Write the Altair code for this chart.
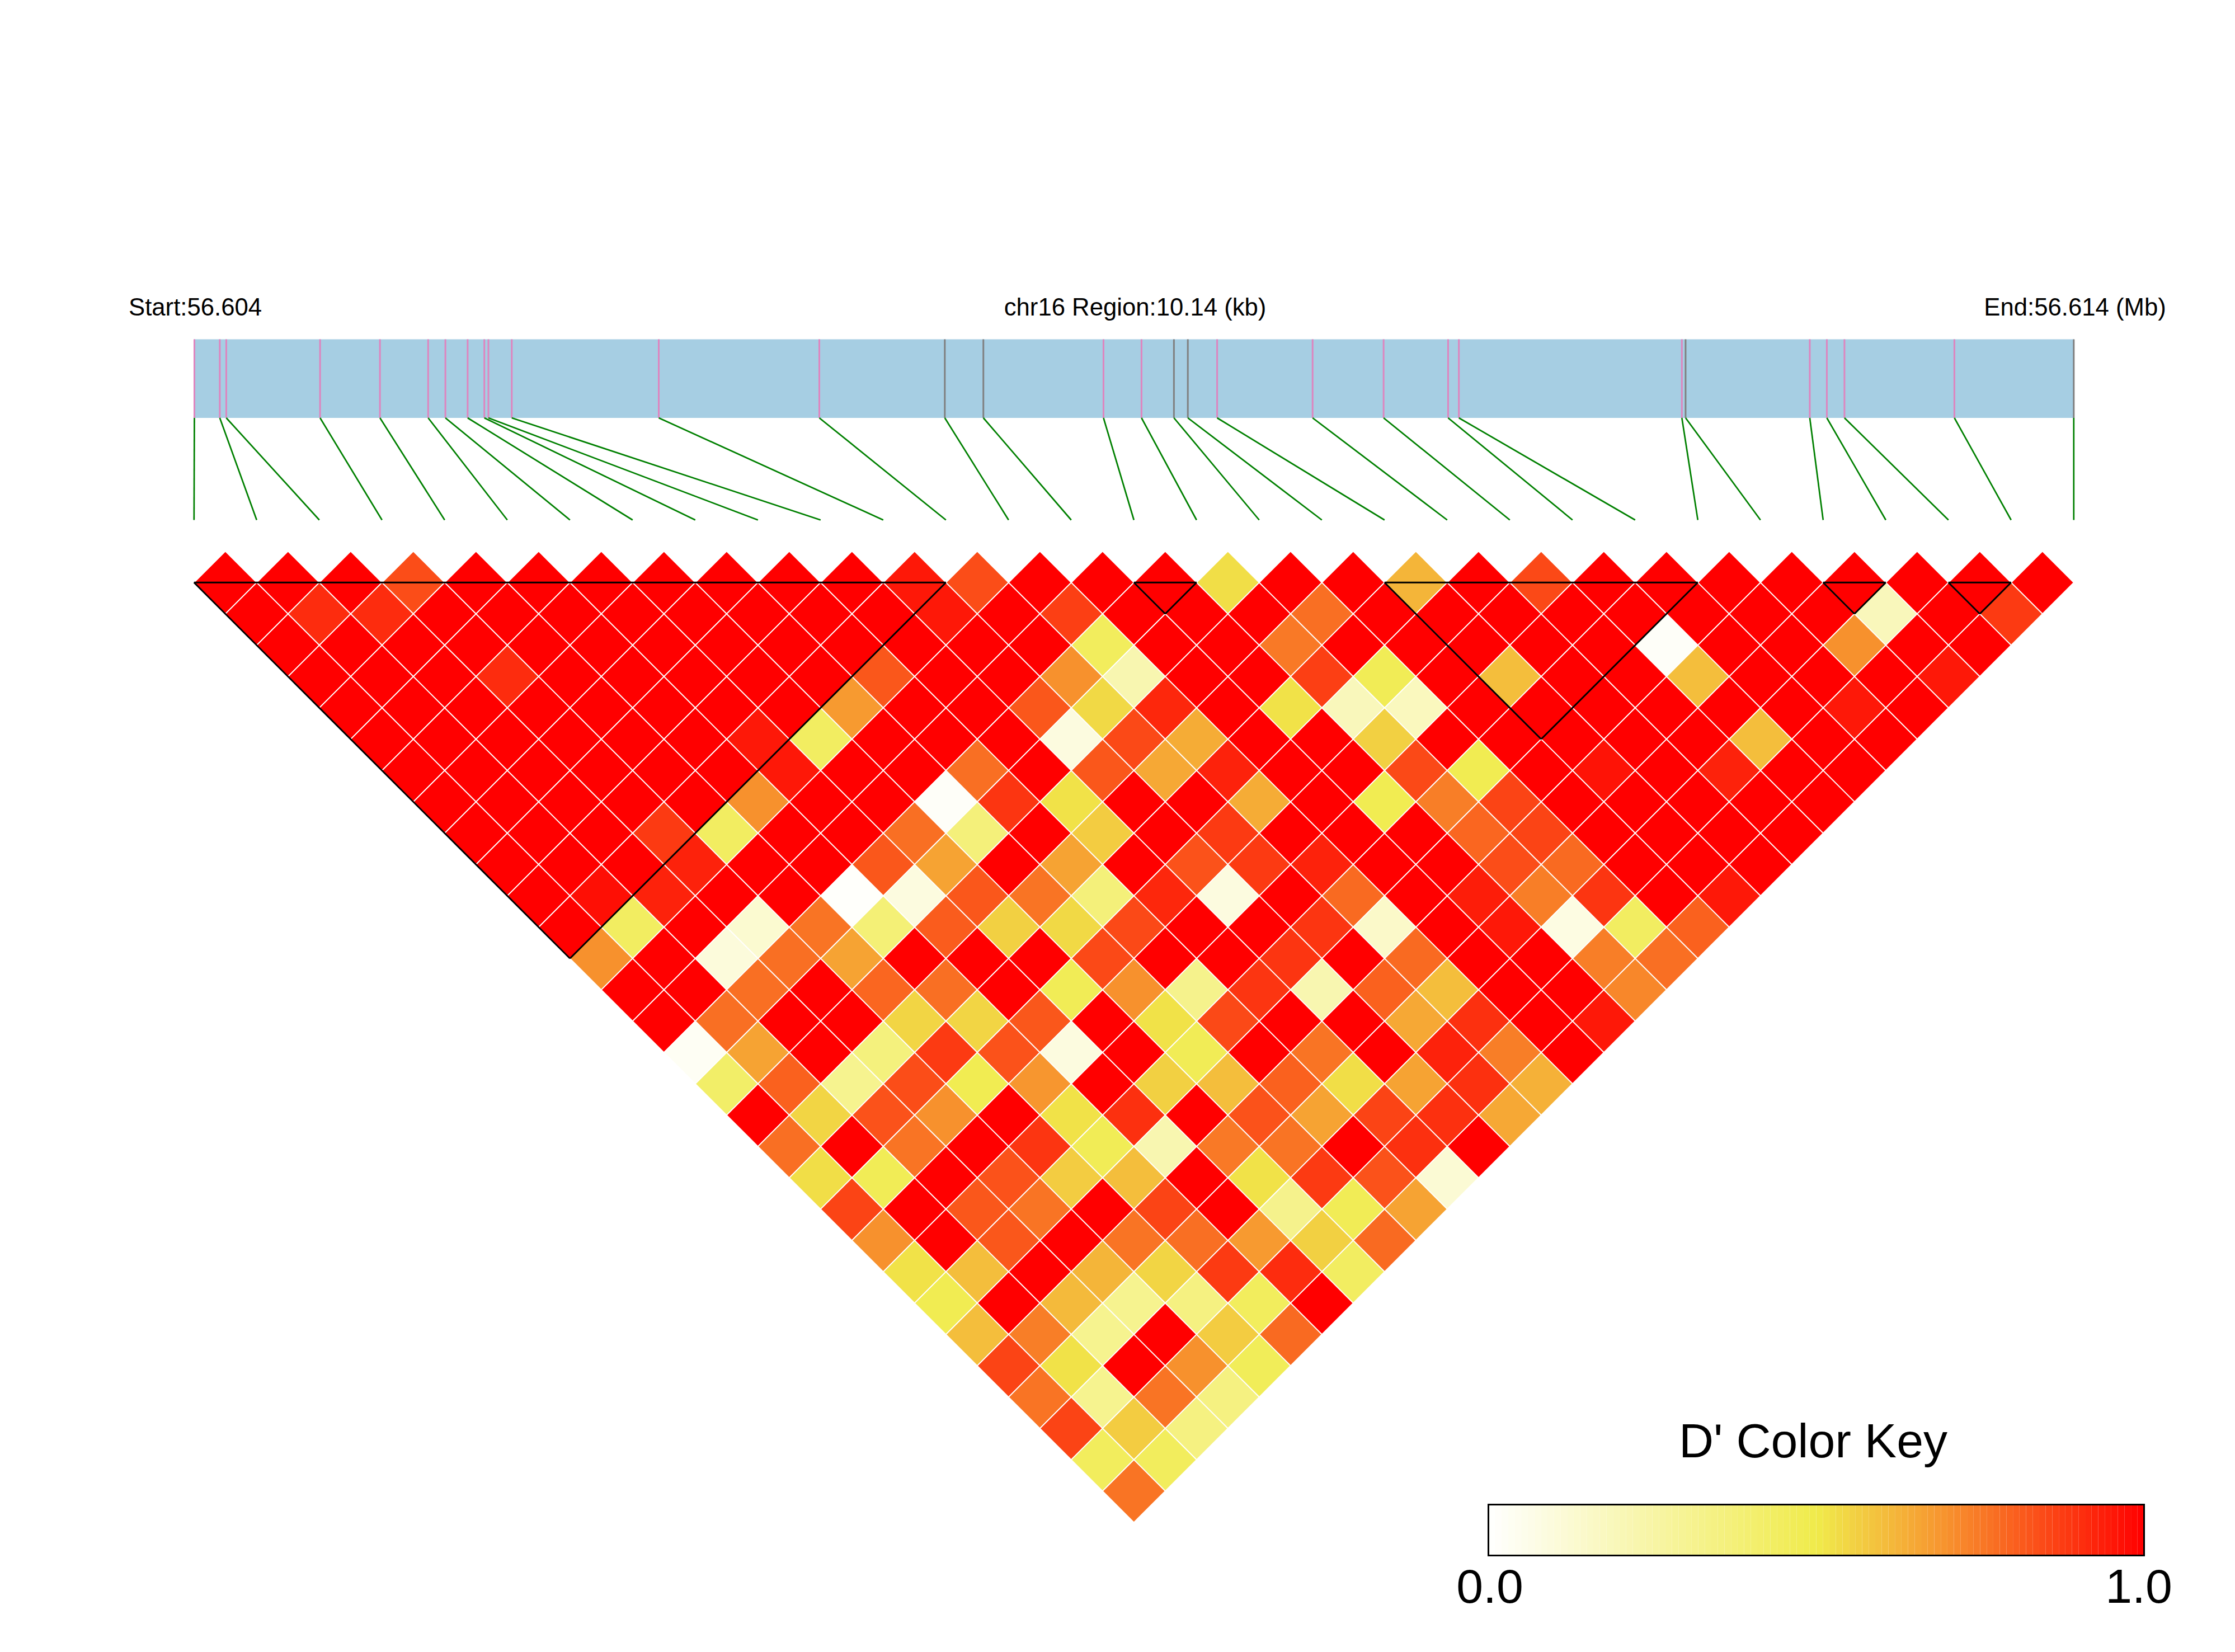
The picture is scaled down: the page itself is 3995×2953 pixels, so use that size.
import altair as alt
import pandas as pd

# D' values: one list per distance between SNPs (row 0 = adjacent SNPs)
row_00 = [1,1,1,.84,1,1,1,1,1,1,1,.95,.84,1,1,1,.53,1,1,.62,1,.85,1,1,1,1,1,1,1,1]
row_01 = [1,.91,.91,1,1,1,1,1,1,1,1,.95,1,.87,1,1,1,.77,1,1,1,1,1,1,1,1,.19,1,.88]
row_02 = [1,1,1,1,1,1,1,1,1,1,1,1,1,.45,1,1,.75,1,1,1,1,1,.02,1,1,.7,1,1]
row_03 = [1,1,1,.91,1,1,1,1,1,.82,1,1,.7,.22,1,1,.87,.47,1,.6,1,1,.6,1,1,1,.95]
row_04 = [1,1,1,1,1,1,1,1,.68,1,1,.82,.54,.92,1,.52,.19,.18,1,1,1,1,1,1,.95,1]
row_05 = [1,1,1,1,1,1,.95,.44,1,1,1,.09,.85,.64,1,1,.56,1,1,1,1,1,.6,1,1]
row_06 = [1,1,1,1,1,1,.95,1,1,.77,1,.82,.65,.93,1,1,.85,.48,1,.96,1,.93,1,1]
row_07 = [1,1,1,1,1,.7,1,1,.02,.89,.52,1,1,.64,1,.48,.74,.86,1,1,1,1,1]
row_08 = [1,1,1,.88,.44,1,1,.77,.37,1,.57,1,.88,1,1,1,.79,.86,1,1,1,1]
row_09 = [1,1,1,.93,1,1,.82,.66,1,.66,1,.83,.88,.93,1,1,.84,.78,1,1,1]
row_10 = [1,.97,.93,1,1,.01,.09,.82,.76,.37,.92,.09,1,.78,1,.94,.74,.89,1,.95]
row_11 = [1,.44,1,.13,.76,.38,.81,.56,.54,.85,1,1,.89,.15,1,.95,.08,.44,.8]
row_12 = [.7,1,.1,.77,.66,1,1,1,.85,1,1,.89,1,.78,1,1,.74,.77]
row_13 = [1,1,.77,1,.79,.77,1,.47,.7,.32,.89,.22,.8,.6,1,1,.72]
row_14 = [1,.77,1,1,.55,.55,.82,1,.52,.85,1,1,.65,.9,1,.95]
row_15 = [.03,.66,1,.36,.88,.83,.09,1,.47,1,.76,1,.93,.74,1]
row_16 = [.42,.8,.31,.84,.48,.69,1,.56,.6,.8,.53,.66,.9,.63]
row_17 = [1,.55,.83,.7,1,.52,.9,1,.83,.66,.86,.9,.65]
row_18 = [.77,1,.76,1,.89,.47,.22,.75,.76,1,.9,1]
row_19 = [.53,.47,1,.83,.57,.6,1,.52,.88,.83,.12]
row_20 = [.86,1,.82,.76,1,.86,1,.32,.47,.66]
row_21 = [.7,1,.82,1,.76,.77,.68,.56,.78]
row_22 = [.52,.6,1,.62,.55,.88,.91,.44]
row_23 = [.48,1,.61,.31,.35,.45,1]
row_24 = [.6,.74,.31,1,.57,.78]
row_25 = [.86,.52,1,.7,.46]
row_26 = [.76,.31,.76,.35]
row_27 = [.86,.57,.35]
row_28 = [.45,.45]
row_29 = [.76]
rows = [row_00,row_01,row_02,row_03,row_04,row_05,row_06,row_07,row_08,row_09,
        row_10,row_11,row_12,row_13,row_14,row_15,row_16,row_17,row_18,row_19,
        row_20,row_21,row_22,row_23,row_24,row_25,row_26,row_27,row_28,row_29]

# SNP positions along the 10.14 kb region (kb from start)
snp_kb = [0.002,0.139,0.174,0.680,1.003,1.263,1.356,1.476,1.566,1.588,1.714,2.507,3.373,
          4.050,4.258,4.906,5.111,5.286,5.361,5.519,6.034,6.417,6.765,6.823,
          8.026,8.046,8.716,8.808,8.903,9.496,10.140]
snp_gray = [13,14,17,18,25,30]          # SNPs whose band tick is grey
blocks = [(0,12),(15,16),(19,24),(26,27),(28,29)]   # haplotype blocks (first, last SNP)
region_kb = 10.14

header_text = ["Start:56.604","chr16 Region:10.14 (kb)","End:56.614 (Mb)"]
key_title = "D' Color Key"
key_ticks = ["0.0","1.0"]
key_bins = 100
stops = [0,.5,.69,1]
stop_colors = ["#FFFFFF","#F0EB4B","#F7962F","#FF0000"]

# layout: 1 x unit = one SNP slot, 1 y unit = one row of cells
W, H = 3975, 2930
X0, Y0, STEP, ROW = 346.8, 1041.3, 112.0, 56.0
def ux(px): return (px - X0) / STEP
def uy(px): return (px - Y0) / ROW

xs = alt.Scale(domain=[ux(8), ux(8 + W)], nice=False, zero=False)
ys = alt.Scale(domain=[uy(8), uy(8 + H)], nice=False, zero=False, reverse=True)
cs = alt.Scale(domain=stops, range=stop_colors, interpolate="rgb")
X = lambda f: alt.X(f, type="quantitative", scale=xs, axis=None)
Y = lambda f: alt.Y(f, type="quantitative", scale=ys, axis=None)
COL = alt.Color("v:Q", scale=cs, legend=None)

cells = pd.DataFrame([{"x": i + .5 + k / 2, "y": k, "v": v}
                      for k, r in enumerate(rows) for i, v in enumerate(r)])
snps = pd.DataFrame({"idx": range(len(snp_kb)),
                     "x": [p / region_kb * 30 for p in snp_kb]})
snps["x_end"] = snps["idx"].astype(float)
BAND_T, BAND_B, LINK_B = uy(606.5), uy(747), uy(929.5)
snps["y0"], snps["y1"], snps["y2"] = BAND_T, BAND_B, LINK_B
pink = snps[~snps.idx.isin(snp_gray)]
gray = snps[snps.idx.isin(snp_gray)]

band = pd.DataFrame({"x": [0.], "x2": [30.], "y": [BAND_T], "y2": [BAND_B]})
seg = []
for a, b in blocks:
    d = float(b - a)
    seg += [{"x": a, "x2": b, "y": 0, "y2": 0},
            {"x": a, "x2": (a + b) / 2, "y": 0, "y2": d},
            {"x": b, "x2": (a + b) / 2, "y": 0, "y2": d}]
seg = pd.DataFrame(seg)

KL, KR, KT, KB = ux(2660.5), ux(3832.5), uy(2689.5), uy(2780.5)
key = pd.DataFrame([{"x": KL + (KR - KL) * n / key_bins,
                     "x2": KL + (KR - KL) * (n + 1) / key_bins,
                     "y": KT, "y2": KB, "v": (n + .5) / key_bins} for n in range(key_bins)])
keybox = pd.DataFrame({"x": [KL], "x2": [KR], "y": [KT], "y2": [KB]})

head = pd.DataFrame({"x": [0.02, 15.02, 30.02], "y": [uy(564)] * 3, "t": header_text})
ktxt = pd.DataFrame({"x": [ux(3241), ux(2663), ux(3823)],
                     "y": [uy(2605), uy(2865), uy(2865)],
                     "t": [key_title] + key_ticks})

FONT = "Liberation Sans"
layers = [
    alt.Chart(band).mark_rect(color="#A6CEE3").encode(x=X("x"), x2="x2", y=Y("y"), y2="y2"),
    alt.Chart(pink).mark_rule(color="#DE85BF", strokeWidth=3).encode(x=X("x"), y=Y("y0"), y2="y1"),
    alt.Chart(gray).mark_rule(color="#808080", strokeWidth=3).encode(x=X("x"), y=Y("y0"), y2="y1"),
    alt.Chart(snps).mark_rule(color="#008000", strokeWidth=2.7).encode(
        x=X("x"), x2="x_end", y=Y("y1"), y2="y2"),
    alt.Chart(cells).mark_point(shape="diamond", filled=True, size=STEP ** 2, opacity=1,
                                stroke="white", strokeWidth=1.9).encode(x=X("x"), y=Y("y"), color=COL),
    alt.Chart(seg).mark_rule(color="black", strokeWidth=3).encode(x=X("x"), x2="x2", y=Y("y"), y2="y2"),
    alt.Chart(key).mark_rect().encode(x=X("x"), x2="x2", y=Y("y"), y2="y2", color=COL),
    alt.Chart(keybox).mark_rect(fill=None, stroke="black", strokeWidth=3).encode(
        x=X("x"), x2="x2", y=Y("y"), y2="y2"),
    alt.Chart(head).mark_text(font=FONT, fontSize=43.7, align="center", baseline="alphabetic",
                              color="black").encode(x=X("x"), y=Y("y"), text="t:N"),
    alt.Chart(ktxt).mark_text(font=FONT, fontSize=86, align="center", baseline="alphabetic",
                              color="black").encode(x=X("x"), y=Y("y"), text="t:N"),
]

chart = (alt.layer(*layers)
         .properties(width=W, height=H, padding=0, background="white",
                     autosize=alt.AutoSizeParams(type="none"))
         .configure_view(stroke=None))
chart.save("out.html", embed_options={"renderer": "svg", "actions": False})
